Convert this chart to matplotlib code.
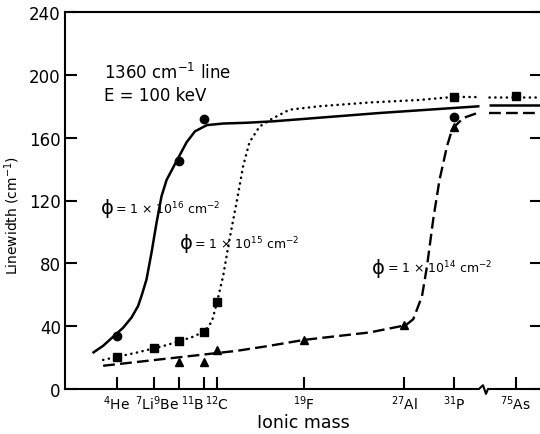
import matplotlib
matplotlib.use("Agg")
import matplotlib.pyplot as plt
import matplotlib.transforms as mtransforms

# ---------------------------------------------------------------------------
# Data.  x is "axis position" = ionic mass, except 75As,
# which sits just past the axis break.
# ---------------------------------------------------------------------------
ion_labels = ["$^{4}$He", "$^{7}$Li", "$^{9}$Be", "$^{11}$B", "$^{12}$C",
              "$^{19}$F", "$^{27}$Al", "$^{31}$P", "$^{75}$As"]
ion_pos = [4, 7, 9, 11, 12, 19, 27, 31, 35.9]
ion_ha = ["center", "right", "right", "right", "center",
          "center", "center", "center", "center"]

# measured points
circ16_x = [4, 9, 11, 31]
circ16_y = [34, 145, 172, 173]
sq15_x = [4, 7, 9, 11, 12, 31, 35.9]
sq15_y = [20.5, 26, 30.5, 36.6, 55.4, 186, 186.5]
tri14_x = [9, 11, 12, 19, 27, 31]
tri14_y = [17.4, 17.4, 25, 31.3, 40.6, 167]

# hand-drawn guide curves (left of the break)
fit16_x = [2.05, 2.9, 3.84, 4.5, 5.17, 5.7, 6.0, 6.37, 6.77, 7.17, 7.57,
           7.97, 8.5, 8.9, 9.57, 10.24, 11.2, 12.5, 14.4, 16.5, 25.0, 33.0]
fit16_y = [22.9, 27.5, 34.3, 39, 45.5, 52.9, 60, 69.8, 86.8, 105.8, 122.7,
           133, 141, 147, 157, 164, 168, 169, 169.5, 170.4, 175.7, 180]
fit15_x = [2.9, 4.0, 5.5, 7.0, 8.0, 9.0, 10.0, 11.0, 11.6, 12.0, 12.5, 13.0,
           13.6, 14.1, 14.6, 15.4, 16.4, 17.8, 20.2, 24.2, 28.2, 31.0, 33.0]
fit15_y = [18.5, 20.5, 23, 26, 28, 30.5, 33, 36.6, 43, 55, 72, 95,
           120, 142, 157, 167, 172, 177.8, 180, 182.4, 184, 186, 185.8]
fit14_x = [2.9, 13.6, 16.2, 19.0, 24.2, 27.1, 27.7, 28.4, 28.8, 29.3, 29.8,
           30.4, 30.8, 31.0, 31.7, 33.0]
fit14_y = [14.8, 24.3, 27.5, 31.3, 36, 40.6, 44.4, 59, 78, 108, 133,
           154.5, 165, 167, 172.5, 176.2]

# continuation right of the break
tail_x = [33.8, 38.2]
tail16_y = [180.5, 180.5]
tail15_y = [186, 186]
tail14_y = [176, 176]

yticks = [0, 40, 80, 120, 160, 200, 240]

# ---------------------------------------------------------------------------
plt.rcParams["font.family"] = ["DejaVu Sans"]
plt.rcParams["mathtext.fontset"] = "dejavusans"

fig = plt.figure(figsize=(5.4, 4.35), dpi=100)
ax = fig.add_axes([65 / 540, 45 / 435, 477 / 540, 377 / 435])

solid = dict(color="black", lw=1.8, ls="-", solid_capstyle="butt")
dotted = dict(color="black", lw=1.8, ls=(0, (0.1, 2.2)), dash_capstyle="round")
dashed = dict(color="black", lw=1.7, ls=(0, (5.0, 2.2)), dash_capstyle="butt")

ax.plot(fit16_x, fit16_y, **solid)
ax.plot(tail_x, tail16_y, **solid)
ax.plot(fit15_x, fit15_y, **dotted)
ax.plot(tail_x, tail15_y, **dotted)
ax.plot(fit14_x, fit14_y, **dashed)
ax.plot(tail_x, tail14_y, **dashed)

ax.plot(circ16_x, circ16_y, "o", color="black", ms=6, zorder=5)
ax.plot(sq15_x, sq15_y, "s", color="black", ms=5.5, zorder=5)
ax.plot(tri14_x, tri14_y, "^", color="black", ms=6, zorder=5)

ax.set_xlim(-0.15, 38.0)
ax.set_ylim(0, 240)

# axes frame: no right spine (cut off), bottom drawn by hand with a break
for s in ("right", "bottom"):
    ax.spines[s].set_visible(False)
for s in ("left", "top"):
    ax.spines[s].set_linewidth(1.5)
trans = mtransforms.blended_transform_factory(ax.transData, ax.transAxes)
ax.plot([-0.15, 32.96, 33.28, 33.52, 33.68, 38.2], [0, 0, 0.01, -0.013, 0, 0],
        color="black", lw=1.5, transform=trans, clip_on=False)

ax.set_yticks(yticks)
ax.set_yticklabels([str(v) for v in yticks])
ax.tick_params(axis="y", direction="in", length=8.5, width=1.5, pad=3,
               labelsize=12, right=True)
ax.set_xticks(ion_pos)
ax.set_xticklabels(ion_labels)
ax.tick_params(axis="x", direction="in", length=8.5, width=1.5, pad=3,
               labelsize=10)
for lab, ha in zip(ax.get_xticklabels(), ion_ha):
    lab.set_ha(ha)

ax.set_ylabel("Linewidth (cm$^{-1}$)", fontsize=10)
ax.yaxis.set_label_coords(-0.09, 0.464)
ax.set_xlabel("Ionic mass", fontsize=12.5)
ax.xaxis.set_label_coords(0.499, -0.064)

ax.text(3.0, 202, "1360 cm$^{-1}$ line", fontsize=12, va="center")
ax.text(3.0, 187, "E = 100 keV", fontsize=12, va="center")

# flux labels: large phi followed by the value
for x, y, expo in [(2.7, 115.5, "16"), (9.0, 93, "15"), (24.4, 77.5, "14")]:
    ax.text(x, y, "ϕ", fontsize=14, va="center")
    ax.annotate("= 1 × 10$^{%s}$ cm$^{-2}$" % expo, (x, y), xytext=(10.5, 0),
                textcoords="offset points", fontsize=9, va="center")

fig.savefig("out.png", dpi=100)
